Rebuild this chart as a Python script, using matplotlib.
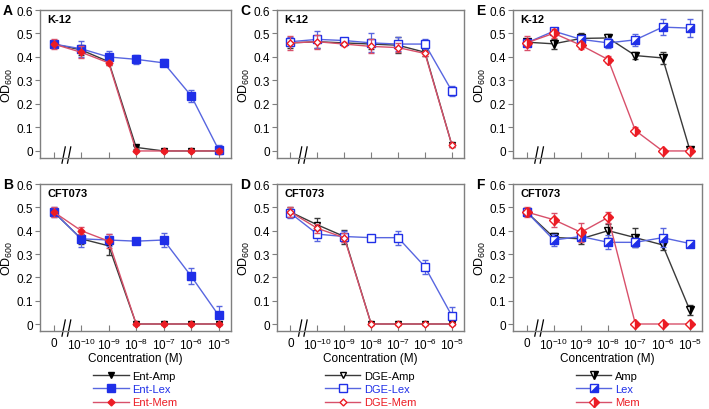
import numpy as np
import matplotlib
matplotlib.use("Agg")
import matplotlib.pyplot as plt
from matplotlib.lines import Line2D
from matplotlib.transforms import blended_transform_factory

plt.rcParams['font.family'] = ['Liberation Sans', 'DejaVu Sans']
plt.rcParams['mathtext.default'] = 'regular'

# x categories (0 then 10^-10 .. 10^-5 M)
conc_labels = ['0', '10$^{-10}$', '10$^{-9}$', '10$^{-8}$', '10$^{-7}$', '10$^{-6}$', '10$^{-5}$']

# Panel A: K-12, Ent conjugates
a_amp = [0.455, 0.430, 0.380, 0.015, 0.0, 0.0, 0.0]
a_amp_err = [0.01, 0.02, 0.015, 0.005, 0.005, 0.005, 0.005]
a_lex = [0.455, 0.435, 0.400, 0.390, 0.375, 0.235, 0.005]
a_lex_err = [0.01, 0.035, 0.025, 0.02, 0.015, 0.025, 0.02]
a_mem = [0.455, 0.420, 0.375, 0.0, 0.0, 0.0, 0.0]
a_mem_err = [0.02, 0.025, 0.01, 0.005, 0.005, 0.005, 0.01]

# Panel B: CFT073, Ent conjugates
b_amp = [0.480, 0.365, 0.335, 0.0, 0.0, 0.0, 0.0]
b_amp_err = [0.015, 0.02, 0.04, 0.005, 0.005, 0.005, 0.005]
b_lex = [0.480, 0.365, 0.360, 0.355, 0.360, 0.205, 0.037]
b_lex_err = [0.02, 0.035, 0.025, 0.01, 0.03, 0.035, 0.04]
b_mem = [0.480, 0.400, 0.355, 0.0, 0.0, 0.0, 0.0]
b_mem_err = [0.02, 0.015, 0.03, 0.005, 0.005, 0.005, 0.005]

# Panel C: K-12, DGE conjugates
c_amp = [0.460, 0.465, 0.460, 0.455, 0.450, 0.420, 0.025]
c_amp_err = [0.02, 0.025, 0.01, 0.02, 0.035, 0.015, 0.01]
c_lex = [0.465, 0.475, 0.470, 0.460, 0.455, 0.455, 0.255]
c_lex_err = [0.02, 0.035, 0.01, 0.04, 0.03, 0.02, 0.02]
c_mem = [0.460, 0.465, 0.455, 0.445, 0.440, 0.415, 0.025]
c_mem_err = [0.03, 0.03, 0.01, 0.03, 0.02, 0.01, 0.01]

# Panel D: CFT073, DGE conjugates
d_amp = [0.480, 0.425, 0.375, 0.0, 0.0, 0.0, 0.0]
d_amp_err = [0.02, 0.03, 0.03, 0.005, 0.005, 0.005, 0.005]
d_lex = [0.475, 0.385, 0.375, 0.370, 0.370, 0.245, 0.035]
d_lex_err = [0.02, 0.03, 0.025, 0.01, 0.03, 0.03, 0.04]
d_mem = [0.480, 0.410, 0.370, 0.0, 0.0, 0.0, 0.0]
d_mem_err = [0.02, 0.02, 0.02, 0.005, 0.005, 0.005, 0.005]

# Panel E: K-12, free antibiotics
e_amp = [0.463, 0.456, 0.479, 0.481, 0.406, 0.396, 0.005]
e_amp_err = [0.01, 0.02, 0.025, 0.015, 0.015, 0.025, 0.01]
e_lex = [0.460, 0.510, 0.475, 0.460, 0.473, 0.527, 0.523]
e_lex_err = [0.01, 0.01, 0.02, 0.02, 0.025, 0.035, 0.04]
e_mem = [0.460, 0.501, 0.450, 0.389, 0.087, 0.0, 0.0]
e_mem_err = [0.03, 0.02, 0.015, 0.015, 0.015, 0.003, 0.003]

# Panel F: CFT073, free antibiotics
f_amp = [0.480, 0.371, 0.365, 0.400, 0.370, 0.339, 0.060]
f_amp_err = [0.015, 0.02, 0.02, 0.03, 0.04, 0.02, 0.02]
f_lex = [0.480, 0.360, 0.375, 0.350, 0.350, 0.370, 0.345]
f_lex_err = [0.01, 0.025, 0.02, 0.03, 0.02, 0.04, 0.01]
f_mem = [0.480, 0.447, 0.393, 0.457, 0.0, 0.0, 0.0]
f_mem_err = [0.02, 0.03, 0.04, 0.025, 0.003, 0.003, 0.003]

BLACK_LINE = '#3a3a3a'
BLUE_LINE = '#5866e0'
RED_LINE = '#d8506a'
BLUE = '#1f2fe8'
RED = '#ec1c24'
SPINE = '#7f7f7f'

x = np.arange(len(conc_labels))

fig = plt.figure(figsize=(7.09, 4.10), dpi=100)
W, H = 709.0, 410.0


def add_ax(left, top, width, height):
    return fig.add_axes([left / W, 1 - (top + height) / H, width / W, height / H])


axA = add_ax(40, 11, 191, 148)
axB = add_ax(40, 185, 191, 147)
axC = add_ax(277, 11, 187, 148)
axD = add_ax(277, 185, 187, 147)
axE = add_ax(513, 11, 189, 148)
axF = add_ax(513, 185, 189, 147)


def style_axes(ax, letter, strain, bottom):
    ax.set_xlim(-0.5, 6.45)
    ax.set_ylim(-0.03, 0.6)
    ax.set_yticks([0, 0.1, 0.2, 0.3, 0.4, 0.5, 0.6])
    ax.set_yticklabels(['0', '0.1', '0.2', '0.3', '0.4', '0.5', '0.6'], fontsize=8.5)
    ax.set_xticks(x)
    if bottom:
        ax.set_xticklabels(conc_labels, fontsize=8.5)
        ax.set_xlabel('Concentration (M)', fontsize=8.5, labelpad=0)
    else:
        ax.set_xticklabels([])
    ax.tick_params(axis='x', direction='in', length=4, color=SPINE, pad=4)
    ax.tick_params(axis='y', direction='out', length=3.5, color=SPINE, pad=1.5)
    for sp in ax.spines.values():
        sp.set_color(SPINE)
        sp.set_linewidth(1.0)
    ax.set_ylabel('OD$_{600}$', fontsize=9, labelpad=1)
    ax.text(-0.195, 1.0, letter, transform=ax.transAxes, fontsize=10,
            fontweight='bold', va='center', ha='left')
    ax.text(0.04, 0.97, strain, transform=ax.transAxes, fontsize=8,
            fontweight='bold', va='top', ha='left')
    # axis break marks
    tr = blended_transform_factory(ax.transData, ax.transAxes)
    for xb in (0.36, 0.56):
        ax.add_line(Line2D([xb - 0.06, xb + 0.06], [-0.035, 0.075], transform=tr,
                           color='black', lw=0.9, clip_on=False))


def draw_series(ax, y, yerr, line_color, marker, mfc, mec, ms, fillstyle='full', mfcalt='white', z=3):
    ax.errorbar(x, y, yerr=yerr, color=line_color, lw=1.0, elinewidth=0.9,
                capsize=2, capthick=0.9, marker=marker, ms=ms, mfc=mfc, mec=mec,
                mew=1.0, fillstyle=fillstyle, markerfacecoloralt=mfcalt, zorder=z)


TRI = [(1, -1), (1, 1), (-1, -1)]


def panel_ent(ax, amp, amp_e, lex, lex_e, mem, mem_e):
    draw_series(ax, amp, amp_e, BLACK_LINE, 'v', 'black', 'black', 5, z=3)
    draw_series(ax, lex, lex_e, BLUE_LINE, 's', BLUE, BLUE, 5.5, z=4)
    draw_series(ax, mem, mem_e, RED_LINE, 'D', RED, RED, 3.5, z=5)


def panel_dge(ax, amp, amp_e, lex, lex_e, mem, mem_e):
    draw_series(ax, amp, amp_e, BLACK_LINE, 'v', 'white', 'black', 5, z=3)
    draw_series(ax, lex, lex_e, BLUE_LINE, 's', 'white', BLUE, 6, z=4)
    draw_series(ax, mem, mem_e, RED_LINE, 'D', 'white', RED, 3.5, z=5)


def panel_free(ax, amp, amp_e, lex, lex_e, mem, mem_e):
    draw_series(ax, amp, amp_e, BLACK_LINE, 'v', 'black', 'black', 6, fillstyle='right', z=3)
    draw_series(ax, lex, lex_e, BLUE_LINE, 's', 'white', BLUE, 6, z=4)
    ax.plot(x, lex, ls='none', marker=TRI, ms=6, mfc=BLUE, mec=BLUE, mew=0.5, zorder=4.5)
    draw_series(ax, mem, mem_e, RED_LINE, 'D', RED, RED, 5, fillstyle='right', z=5)


panel_ent(axA, a_amp, a_amp_err, a_lex, a_lex_err, a_mem, a_mem_err)
panel_ent(axB, b_amp, b_amp_err, b_lex, b_lex_err, b_mem, b_mem_err)
panel_dge(axC, c_amp, c_amp_err, c_lex, c_lex_err, c_mem, c_mem_err)
panel_dge(axD, d_amp, d_amp_err, d_lex, d_lex_err, d_mem, d_mem_err)
panel_free(axE, e_amp, e_amp_err, e_lex, e_lex_err, e_mem, e_mem_err)
panel_free(axF, f_amp, f_amp_err, f_lex, f_lex_err, f_mem, f_mem_err)

style_axes(axA, 'A', 'K-12', False)
style_axes(axB, 'B', 'CFT073', True)
style_axes(axC, 'C', 'K-12', False)
style_axes(axD, 'D', 'CFT073', True)
style_axes(axE, 'E', 'K-12', False)
style_axes(axF, 'F', 'CFT073', True)


def add_legend(ax, handles, labels, colors):
    leg = ax.legend(handles, labels, loc='upper center', bbox_to_anchor=(0.5, -0.24),
                    frameon=False, fontsize=8, handlelength=3.2, handletextpad=0.3,
                    labelspacing=0.3, borderaxespad=0)
    for t, c in zip(leg.get_texts(), colors):
        t.set_color(c)


leg_colors = ['black', BLUE, RED]

h_ent = [Line2D([], [], color=BLACK_LINE, lw=1, marker='v', ms=5, mfc='black', mec='black'),
         Line2D([], [], color=BLUE_LINE, lw=1, marker='s', ms=5.5, mfc=BLUE, mec=BLUE),
         Line2D([], [], color=RED_LINE, lw=1, marker='D', ms=3.5, mfc=RED, mec=RED)]
add_legend(axB, h_ent, ['Ent-Amp', 'Ent-Lex', 'Ent-Mem'], leg_colors)

h_dge = [Line2D([], [], color=BLACK_LINE, lw=1, marker='v', ms=5, mfc='white', mec='black'),
         Line2D([], [], color=BLUE_LINE, lw=1, marker='s', ms=6, mfc='white', mec=BLUE),
         Line2D([], [], color=RED_LINE, lw=1, marker='D', ms=3.5, mfc='white', mec=RED)]
add_legend(axD, h_dge, ['DGE-Amp', 'DGE-Lex', 'DGE-Mem'], leg_colors)

h_free = [Line2D([], [], color=BLACK_LINE, lw=1, marker='v', ms=6, mfc='black', mec='black',
                 fillstyle='right', markerfacecoloralt='white'),
          (Line2D([], [], color=BLUE_LINE, lw=1, marker='s', ms=6, mfc='white', mec=BLUE),
           Line2D([], [], ls='none', marker=TRI, ms=6, mfc=BLUE, mec=BLUE, mew=0.5)),
          Line2D([], [], color=RED_LINE, lw=1, marker='D', ms=5, mfc=RED, mec=RED,
                 fillstyle='right', markerfacecoloralt='white')]
add_legend(axF, h_free, ['Amp', 'Lex', 'Mem'], leg_colors)

fig.savefig('out.png', dpi=100)
